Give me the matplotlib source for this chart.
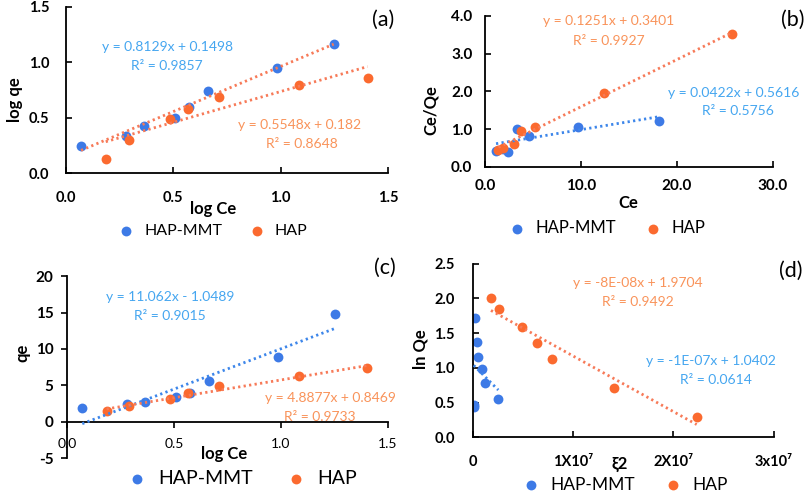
import numpy as np
import matplotlib.pyplot as plt

plt.rcParams['font.family'] = ['Lato', 'DejaVu Sans']

W, H = 812, 492

BLUE = '#3d7ae6'
ORANGE = '#fb6a2f'
BLUE_TXT = '#45a6f0'
ORANGE_TXT = '#f9935a'
BLUE_LINE = '#3d86ea'
ORANGE_LINE = '#f77a58'

# (a) log qe vs log Ce
a_mmt_x = [0.070, 0.278, 0.362, 0.506, 0.574, 0.663, 0.981, 1.247]
a_mmt_y = [0.249, 0.339, 0.426, 0.501, 0.594, 0.741, 0.949, 1.165]
a_hap_x = [0.185, 0.295, 0.486, 0.567, 0.711, 1.087, 1.405]
a_hap_y = [0.129, 0.303, 0.486, 0.577, 0.685, 0.793, 0.859]
a_mmt_fit = (0.8129, 0.1498)
a_hap_fit = (0.5548, 0.182)

# (b) Ce/Qe vs Ce
b_mmt_x = [1.15, 1.84, 2.36, 3.3, 4.6, 9.7, 18.1]
b_mmt_y = [0.42, 0.47, 0.39, 1.01, 0.81, 1.06, 1.20]
b_hap_x = [1.4, 1.9, 3.05, 3.7, 5.2, 12.4, 25.7]
b_hap_y = [0.45, 0.49, 0.59, 0.95, 1.04, 1.96, 3.52]
b_mmt_fit = (0.0422, 0.5616)
b_hap_fit = (0.1251, 0.3401)

# (c) qe vs log Ce
c_mmt_x = [0.070, 0.278, 0.364, 0.509, 0.574, 0.663, 0.985, 1.253]
c_mmt_y = [1.84, 2.39, 2.66, 3.35, 3.98, 5.63, 8.93, 14.79]
c_hap_x = [0.184, 0.289, 0.481, 0.564, 0.709, 1.085, 1.405]
c_hap_y = [1.51, 2.16, 3.12, 3.90, 4.90, 6.32, 7.33]
c_mmt_fit = (11.062, -1.0489)
c_hap_fit = (4.8877, 0.8469)

# (d) ln Qe vs eps^2
d_mmt_x = [0.023e7, 0.04e7, 0.056e7, 0.09e7, 0.123e7, 0.255e7, 0.013e7, 0.010e7]
d_mmt_y = [1.72, 1.37, 1.16, 0.98, 0.786, 0.556, 0.465, 0.43]
d_hap_x = [0.182e7, 0.265e7, 0.488e7, 0.644e7, 0.787e7, 1.409e7, 2.233e7]
d_hap_y = [2.00, 1.84, 1.58, 1.35, 1.13, 0.714, 0.296]
d_mmt_fit = (-1.45e-7, 1.05)
d_hap_fit = (-8e-8, 1.9704)

legend_names = ['HAP-MMT', 'HAP']

fig = plt.figure(figsize=(W / 100, H / 100), dpi=100)


def px(x, y):
    return x / W, 1 - y / H


def axes_px(left, top, right, bottom):
    return fig.add_axes([left / W, 1 - bottom / H, (right - left) / W, (bottom - top) / H])


def trend(ax, xs, fit, color):
    x0, x1 = min(xs), max(xs)
    xx = np.array([x0, x1])
    ax.plot(xx, fit[0] * xx + fit[1], color=color, lw=2.0,
            linestyle=(0, (0.8, 1.2)), zorder=3, solid_capstyle='round')


def panel(ax, mx, my, hx, hy, mfit, hfit, mline, hline, xlim, ylim,
          xticks, xlabels, yticks, ylabels, tsize, direction, xpad, ypad):
    s1 = ax.scatter(mx, my, s=50, color=BLUE, zorder=2, linewidths=0)
    s2 = ax.scatter(hx, hy, s=50, color=ORANGE, zorder=2, linewidths=0)
    trend(ax, mx, mfit, mline)
    trend(ax, hx, hfit, hline)
    ax.set_xlim(*xlim)
    ax.set_ylim(*ylim)
    ax.set_xticks(xticks)
    ax.set_xticklabels(xlabels, fontweight='bold', fontsize=tsize)
    ax.set_yticks(yticks)
    ax.set_yticklabels(ylabels, fontweight='bold', fontsize=tsize)
    for sp in ['top', 'right']:
        ax.spines[sp].set_visible(False)
    for sp in ['left', 'bottom']:
        ax.spines[sp].set_linewidth(1.3)
    ax.tick_params(direction=direction, length=4, width=1.2)
    ax.tick_params(axis='x', pad=xpad)
    ax.tick_params(axis='y', pad=ypad)
    ax.patch.set_alpha(0)
    return s1, s2


def legend(ax, handles, x, y, size):
    ax.legend(handles, legend_names, loc='center', bbox_to_anchor=px(x, y),
              bbox_transform=fig.transFigure, ncol=2, frameon=False,
              fontsize=size, handletextpad=0.1, columnspacing=1.2,
              markerscale=1.0, borderaxespad=0)


EQ = 10

# ---- (a)
ax = axes_px(66, 6.8, 388, 173.3)
h = panel(ax, a_mmt_x, a_mmt_y, a_hap_x, a_hap_y, a_mmt_fit, a_hap_fit,
          ORANGE_LINE, ORANGE_LINE, (0, 1.5), (0, 1.5),
          [0, 0.5, 1.0, 1.5], ['0.0', '0.5', '1.0', '1.5'],
          [0, 0.5, 1.0, 1.5], ['0.0', '0.5', '1.0', '1.5'], 10.5, 'in', 13, 12)
legend(ax, h, 209, 231, 11.5)
fig.text(*px(213, 209), 'log Ce', ha='center', va='center', fontsize=12, fontweight='bold')
fig.text(*px(15, 100), 'log qe', ha='center', va='center', fontsize=12, fontweight='bold', rotation=90)
fig.text(*px(383, 20), '(a)', ha='center', va='center', fontsize=15.5)
fig.text(*px(168, 47), 'y = 0.8129x + 0.1498', ha='center', va='center', fontsize=EQ, color=BLUE_TXT)
fig.text(*px(167, 66), 'R² = 0.9857', ha='center', va='center', fontsize=EQ, color=BLUE_TXT)
fig.text(*px(300, 125), 'y = 0.5548x + 0.182', ha='center', va='center', fontsize=EQ, color=ORANGE_TXT)
fig.text(*px(302, 144), 'R² = 0.8648', ha='center', va='center', fontsize=EQ, color=ORANGE_TXT)

# ---- (b)
ax = axes_px(485, 15.9, 773, 166.7)
h = panel(ax, b_mmt_x, b_mmt_y, b_hap_x, b_hap_y, b_mmt_fit, b_hap_fit,
          BLUE_LINE, ORANGE_LINE, (0, 30), (0, 4),
          [0, 10, 20, 30], ['0.0', '10.0', '20.0', '30.0'],
          [0, 1, 2, 3, 4], ['0.0', '1.0', '2.0', '3.0', '4.0'], 11, 'in', 9, 9)
legend(ax, h, 603, 228, 12)
fig.text(*px(628, 203), 'Ce', ha='center', va='center', fontsize=12, fontweight='bold')
fig.text(*px(431, 110), 'Ce/Qe', ha='center', va='center', fontsize=12, fontweight='bold', rotation=90)
fig.text(*px(793, 20), '(b)', ha='center', va='center', fontsize=15.5)
fig.text(*px(609, 21), 'y = 0.1251x + 0.3401', ha='center', va='center', fontsize=EQ, color=ORANGE_TXT)
fig.text(*px(609, 41), 'R² = 0.9927', ha='center', va='center', fontsize=EQ, color=ORANGE_TXT)
fig.text(*px(734, 93), 'y = 0.0422x + 0.5616', ha='center', va='center', fontsize=EQ, color=BLUE_TXT)
fig.text(*px(738, 111), 'R² = 0.5756', ha='center', va='center', fontsize=EQ, color=BLUE_TXT)

# ---- (c)
ax = axes_px(67.3, 276.1, 387.7, 458.1)
h = panel(ax, c_mmt_x, c_mmt_y, c_hap_x, c_hap_y, c_mmt_fit, c_hap_fit,
          BLUE_LINE, ORANGE_LINE, (0, 1.5), (-5, 20),
          [0, 0.5, 1.0, 1.5], ['0.0', '0.5', '1.0', '1.5'],
          [-5, 0, 5, 10, 15, 20], ['-5', '0', '5', '10', '15', '20'], 11, 'out', 8, 6)
ax.spines['bottom'].set_position(('data', 0))
legend(ax, h, 237, 479, 14)
fig.text(*px(224, 454), 'log Ce', ha='center', va='center', fontsize=12, fontweight='bold')
fig.text(*px(22, 353), 'qe', ha='center', va='center', fontsize=12, fontweight='bold', rotation=90)
fig.text(*px(385, 268), '(c)', ha='center', va='center', fontsize=15.5)
fig.text(*px(170, 297), 'y = 11.062x - 1.0489', ha='center', va='center', fontsize=EQ, color=BLUE_TXT)
fig.text(*px(170, 316), 'R² = 0.9015', ha='center', va='center', fontsize=EQ, color=BLUE_TXT)
fig.text(*px(330, 398), 'y = 4.8877x + 0.8469', ha='center', va='center', fontsize=EQ, color=ORANGE_TXT)
fig.text(*px(320, 417), 'R² = 0.9733', ha='center', va='center', fontsize=EQ, color=ORANGE_TXT)

# ---- (d)
ax = axes_px(472.7, 263.5, 773.6, 437.3)
h = panel(ax, d_mmt_x, d_mmt_y, d_hap_x, d_hap_y, d_mmt_fit, d_hap_fit,
          BLUE_LINE, ORANGE_LINE, (0, 3e7), (0, 2.5),
          [0, 1e7, 2e7, 3e7], ['0', '1X10⁷', '2X10⁷', '3x10⁷'],
          [0, 0.5, 1.0, 1.5, 2.0, 2.5], ['0.0', '0.5', '1.0', '1.5', '2.0', '2.5'], 10.5, 'in', 13, 13)
legend(ax, h, 621, 485, 12.5)
fig.text(*px(620, 464), 'ξ2', ha='center', va='center', fontsize=12, fontweight='bold')
fig.text(*px(421, 349), 'ln Qe', ha='center', va='center', fontsize=12, fontweight='bold', rotation=90)
fig.text(*px(791, 271), '(d)', ha='center', va='center', fontsize=15.5)
fig.text(*px(638, 283), 'y = -8E-08x + 1.9704', ha='center', va='center', fontsize=EQ, color=ORANGE_TXT)
fig.text(*px(638, 302), 'R² = 0.9492', ha='center', va='center', fontsize=EQ, color=ORANGE_TXT)
fig.text(*px(711, 361), 'y = -1E-07x + 1.0402', ha='center', va='center', fontsize=EQ, color=BLUE_TXT)
fig.text(*px(716, 380), 'R² = 0.0614', ha='center', va='center', fontsize=EQ, color=BLUE_TXT)

fig.savefig('out.png', dpi=100)
